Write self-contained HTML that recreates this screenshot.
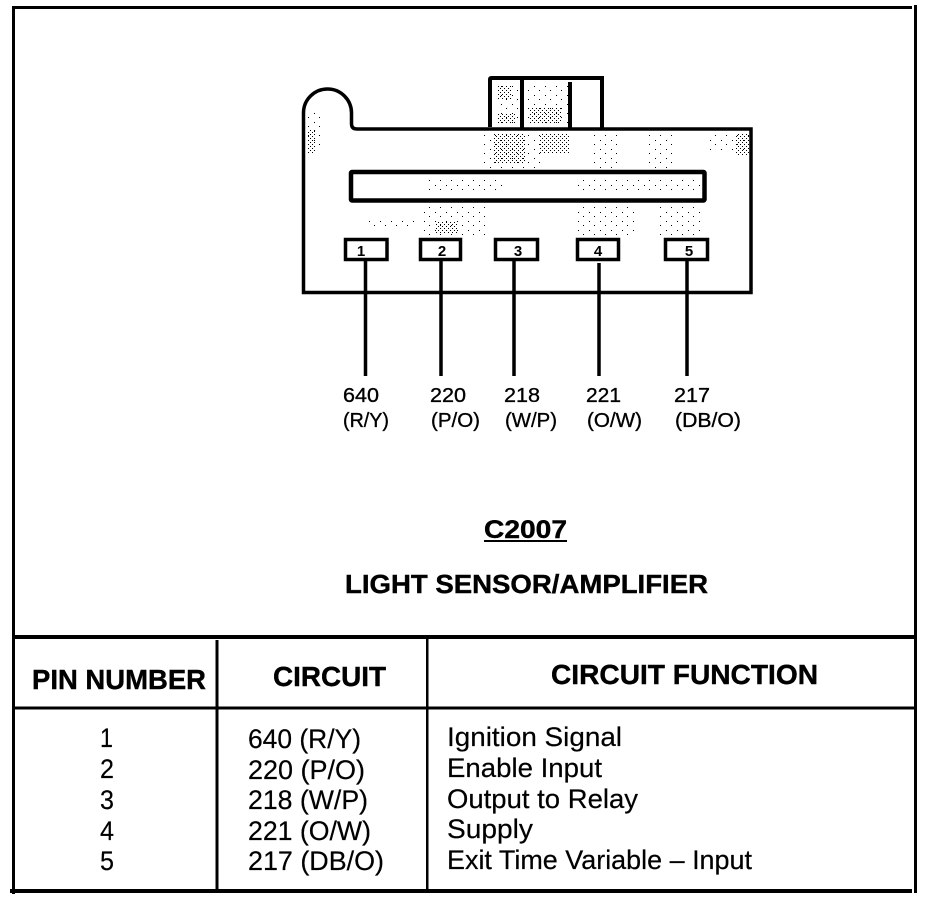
<!DOCTYPE html>
<html><head><meta charset="utf-8"><style>
html,body{margin:0;padding:0;background:#fff}
svg{display:block}
text{font-family:"Liberation Sans",sans-serif;fill:#000}
.l{font-size:20.5px;stroke:#000;stroke-width:.35px}
.r{font-size:27px;stroke:#000;stroke-width:.2px}
.h{font-size:28px;font-weight:bold;stroke:#000;stroke-width:.4px}
</style></head><body>
<svg width="928" height="900" viewBox="0 0 928 900" xmlns="http://www.w3.org/2000/svg">
<defs>
<pattern id="d" width="4" height="4" patternUnits="userSpaceOnUse"><rect width="1" height="1" fill="#000"/><rect x="2" y="2" width="1" height="1" fill="#000"/></pattern>
<pattern id="s" width="11" height="9" patternUnits="userSpaceOnUse"><rect width="1" height="1" fill="#000"/><rect x="6" y="5" width="1" height="1" fill="#000"/></pattern>
</defs>
<rect width="928" height="900" fill="#fff"/>
<!-- stipple -->
<g>
<rect x="496" y="84" width="22" height="42" fill="url(#s)"/>
<rect x="498" y="86" width="14" height="14" fill="url(#d)"/>
<rect x="498" y="114" width="18" height="10" fill="url(#d)"/>
<rect x="525" y="84" width="43" height="42" fill="url(#s)"/>
<rect x="530" y="108" width="32" height="16" fill="url(#d)"/>
<rect x="305" y="112" width="18" height="36" fill="url(#s)"/>
<rect x="307" y="130" width="8" height="24" fill="url(#d)"/>
<rect x="482" y="133" width="60" height="36" fill="url(#s)"/>
<rect x="494" y="133" width="32" height="30" fill="url(#d)"/>
<rect x="540" y="133" width="30" height="20" fill="url(#d)"/>
<rect x="590" y="135" width="30" height="34" fill="url(#s)"/>
<rect x="645" y="133" width="30" height="36" fill="url(#s)"/>
<rect x="705" y="133" width="44" height="20" fill="url(#s)"/>
<rect x="735" y="133" width="14" height="22" fill="url(#d)"/>
<rect x="425" y="178" width="80" height="14" fill="url(#s)"/>
<rect x="575" y="178" width="125" height="14" fill="url(#s)"/>
<rect x="420" y="206" width="70" height="30" fill="url(#s)"/>
<rect x="435" y="222" width="22" height="12" fill="url(#d)"/>
<rect x="575" y="206" width="60" height="30" fill="url(#s)"/>
<rect x="660" y="206" width="40" height="30" fill="url(#s)"/>
<rect x="365" y="220" width="50" height="10" fill="url(#s)"/>
</g>
<!-- frame -->
<g fill="#000">
<rect x="12" y="6" width="3" height="888"/>
<rect x="12" y="6" width="900" height="3"/>
<rect x="914" y="5" width="3" height="888"/>
<rect x="10" y="889" width="902" height="4"/>
<rect x="15" y="635" width="899" height="4"/>
<rect x="15" y="706.500" width="899" height="3"/>
<rect x="215.500" y="640" width="3" height="249"/>
<rect x="426" y="638" width="2.500" height="251"/>
</g>
<!-- connector -->
<g fill="none" stroke="#000" stroke-width="3.500">
<path d="M303.500 292.500V113C303.500 99 315 89 327.500 89C341 89 351.500 100 351.500 113V124Q351.500 129 357 129H751V292.500Z" fill="none"/>
<path d="M490 127V79.500Q490 78 491.500 78H602V129" stroke-width="4"/>
<path d="M522 78V129M570 82V129" stroke-width="4"/>
<rect x="351" y="172" width="353.500" height="28.500" stroke-width="4.500" rx="1"/>
<rect x="345.500" y="239.500" width="41.500" height="20" stroke-width="3.500"/>
<rect x="420.500" y="239.500" width="40" height="20" stroke-width="3.500"/>
<rect x="495.500" y="239.500" width="42" height="20" stroke-width="3.500"/>
<rect x="577.500" y="239.500" width="41" height="20" stroke-width="3.500"/>
<rect x="665.500" y="239.500" width="42" height="20" stroke-width="3.500"/>
<path d="M365.500 260V376M441 260V376M514 260V376M599 263V376M687 260V376"/>
</g>
<g font-weight="bold" text-anchor="middle">
<text x="361" y="256" style="font-size:15px">1</text>
<text x="442" y="256" style="font-size:15px">2</text>
<text x="518" y="256" style="font-size:15px">3</text>
<text x="598" y="256" style="font-size:15px">4</text>
<text x="689" y="256" style="font-size:15px">5</text>
</g>
<!-- wire labels -->
<text class="l" x="343" y="402" textLength="36" lengthAdjust="spacingAndGlyphs">640</text>
<text class="l" x="343" y="427" textLength="46" lengthAdjust="spacingAndGlyphs">(R/Y)</text>
<text class="l" x="430" y="402" textLength="36" lengthAdjust="spacingAndGlyphs">220</text>
<text class="l" x="431" y="427" textLength="49" lengthAdjust="spacingAndGlyphs">(P/O)</text>
<text class="l" x="504" y="402" textLength="36" lengthAdjust="spacingAndGlyphs">218</text>
<text class="l" x="505" y="427" textLength="52" lengthAdjust="spacingAndGlyphs">(W/P)</text>
<text class="l" x="586" y="402" textLength="35" lengthAdjust="spacingAndGlyphs">221</text>
<text class="l" x="587" y="427" textLength="55" lengthAdjust="spacingAndGlyphs">(O/W)</text>
<text class="l" x="674" y="402" textLength="36" lengthAdjust="spacingAndGlyphs">217</text>
<text class="l" x="675" y="427" textLength="66" lengthAdjust="spacingAndGlyphs">(DB/O)</text>
<!-- title -->
<text x="484" y="538" style="font-size:25px;font-weight:bold;stroke:#000;stroke-width:.4px" textLength="83" lengthAdjust="spacingAndGlyphs">C2007</text>
<rect x="484" y="540" width="83" height="2" fill="#000"/>
<text x="345" y="593" style="font-size:26px;font-weight:bold;stroke:#000;stroke-width:.4px" textLength="363" lengthAdjust="spacingAndGlyphs">LIGHT SENSOR/AMPLIFIER</text>
<!-- table header -->
<text class="h" x="32" y="689" textLength="174" lengthAdjust="spacingAndGlyphs">PIN NUMBER</text>
<text class="h" x="273" y="686" textLength="113" lengthAdjust="spacingAndGlyphs">CIRCUIT</text>
<text class="h" x="551" y="684" textLength="267" lengthAdjust="spacingAndGlyphs">CIRCUIT FUNCTION</text>
<!-- rows -->
<text class="r" x="100" y="747" textLength="13" lengthAdjust="spacingAndGlyphs">1</text>
<text class="r" x="100" y="778" textLength="14" lengthAdjust="spacingAndGlyphs">2</text>
<text class="r" x="100" y="809" textLength="14" lengthAdjust="spacingAndGlyphs">3</text>
<text class="r" x="100" y="840" textLength="14" lengthAdjust="spacingAndGlyphs">4</text>
<text class="r" x="100" y="870" textLength="14" lengthAdjust="spacingAndGlyphs">5</text>
<text class="r" x="248" y="748" textLength="113" lengthAdjust="spacingAndGlyphs">640 (R/Y)</text>
<text class="r" x="248" y="779" textLength="117" lengthAdjust="spacingAndGlyphs">220 (P/O)</text>
<text class="r" x="248" y="809" textLength="120" lengthAdjust="spacingAndGlyphs">218 (W/P)</text>
<text class="r" x="248" y="840" textLength="123" lengthAdjust="spacingAndGlyphs">221 (O/W)</text>
<text class="r" x="248" y="870" textLength="136" lengthAdjust="spacingAndGlyphs">217 (DB/O)</text>
<text class="r" x="447" y="746" textLength="175" lengthAdjust="spacingAndGlyphs">Ignition Signal</text>
<text class="r" x="447" y="777" textLength="155" lengthAdjust="spacingAndGlyphs">Enable Input</text>
<text class="r" x="447" y="808" textLength="191" lengthAdjust="spacingAndGlyphs">Output to Relay</text>
<text class="r" x="447" y="838" textLength="86" lengthAdjust="spacingAndGlyphs">Supply</text>
<text class="r" x="447" y="869" textLength="305" lengthAdjust="spacingAndGlyphs">Exit Time Variable – Input</text>
</svg>
</body></html>
